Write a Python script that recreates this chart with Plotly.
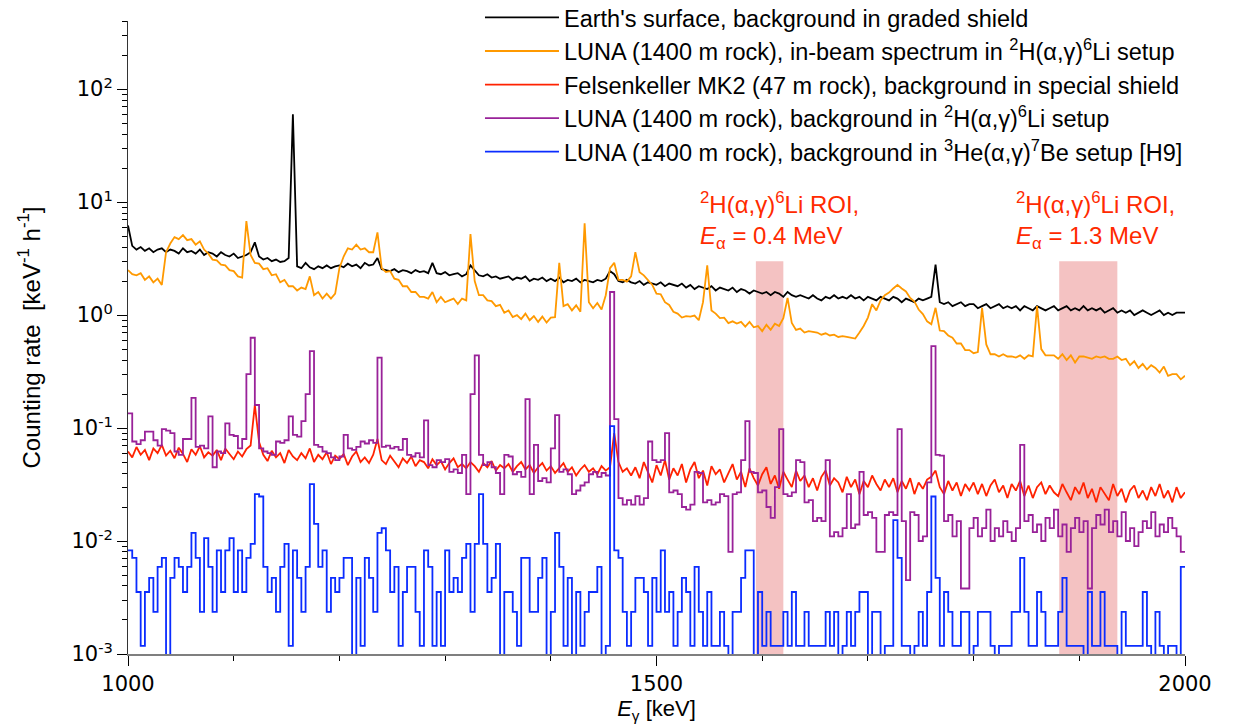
import numpy as np
import plotly.graph_objects as go

# ---------------- data ----------------
energy_step = 4
line_energies = np.arange(1000, 2001, energy_step)          # 251 points
bin_edges = np.arange(1000, 2000, energy_step)              # 250 bin starts

earth_surface = [
    6.2, 4.1, 3.8, 4.0, 3.7, 3.9, 3.6, 3.8, 3.9, 3.6,
    3.8, 3.7, 3.5, 3.9, 3.6, 3.7, 3.5, 3.8, 3.4, 3.6,
    3.5, 3.3, 3.6, 3.4, 3.3, 3.5, 3.2, 3.3, 3.4, 3.6,
    4.4, 3.3, 3.1, 3.2, 3.0, 3.1, 2.95, 3.0, 3.2, 60,
    2.7, 2.6, 2.9, 2.65, 2.55, 2.7, 2.6, 2.75, 2.6, 2.7,
    2.75, 2.65, 2.85, 2.7, 2.8, 2.6, 2.9, 2.75, 2.8, 3.2,
    2.55, 2.5, 2.45, 2.55, 2.4, 2.5, 2.45, 2.35, 2.5, 2.4,
    2.45, 2.35, 2.9, 2.35, 2.3, 2.4, 2.25, 2.3, 2.35, 2.2,
    2.3, 2.75, 2.5, 2.25, 2.2, 2.3, 2.15, 2.2, 2.1, 2.15,
    2.2, 2.05, 2.15, 2.1, 2.2, 2.0, 2.1, 2.05, 2.15, 2.0,
    2.1, 2.0, 2.15, 1.95, 2.05, 2.0, 2.1, 1.95, 2.05, 2.0,
    1.95, 2.05, 2.0, 2.1, 2.45, 2.3, 2.0, 1.95, 2.05, 1.95,
    1.9, 2.0, 1.85, 1.95, 1.9, 1.85, 1.95, 1.8, 1.9, 1.85,
    1.8, 1.9, 1.75, 1.85, 1.7, 1.8, 1.75, 1.7, 1.8, 1.65,
    1.75, 1.7, 1.65, 1.75, 1.6, 1.7, 1.65, 1.55, 1.65, 1.6,
    1.55, 1.6, 1.5, 1.6, 1.55, 1.45, 1.6, 1.5, 1.45, 1.5,
    1.45, 1.4, 1.5, 1.4, 1.35, 1.45, 1.4, 1.5, 1.4, 1.45,
    1.4, 1.5, 1.4, 1.45, 1.35, 1.45, 1.4, 1.35, 1.45, 1.4,
    1.35, 1.45, 1.4, 1.3, 1.4, 1.35, 1.3, 1.4, 1.35, 1.4,
    1.45, 2.8, 1.3, 1.25, 1.3, 1.2, 1.25, 1.3, 1.2, 1.25,
    1.25, 1.15, 1.2, 1.25, 1.15, 1.2, 1.25, 1.15, 1.2, 1.15,
    1.2, 1.1, 1.2, 1.15, 1.1, 1.2, 1.15, 1.1, 1.15, 1.2,
    1.1, 1.15, 1.2, 1.1, 1.15, 1.1, 1.2, 1.1, 1.15, 1.1,
    1.15, 1.05, 1.1, 1.15, 1.05, 1.1, 1.05, 1.1, 1.0, 1.05,
    1.1, 1.05, 1.0, 1.05, 1.1, 1.0, 1.05, 1.0, 1.05, 1.05,
    1.05,
]

luna_inbeam = [
    2.5, 2.3, 2.25, 2.35, 2.05, 2.2, 1.95, 2.1, 1.85, 3.6,
    4.3, 4.9, 4.7, 5.1, 4.6, 4.7, 4.2, 4.5, 3.8, 3.5,
    3.1, 3.05, 2.8, 2.75, 2.5, 2.45, 2.2, 2.15, 6.8, 3.4,
    2.9, 2.85, 2.55, 2.6, 2.25, 2.3, 1.95, 2.05, 1.8, 1.8,
    1.65, 1.75, 1.7, 2.2, 1.5, 1.6, 1.4, 1.55, 1.4, 1.55,
    2.6, 3.3, 3.9, 3.8, 4.2, 3.8, 3.9, 3.6, 3.6, 5.4,
    2.6, 2.4, 2.45, 2.1, 2.05, 1.8, 1.8, 1.6, 1.6, 1.45,
    1.45, 1.4, 1.6, 1.3, 1.45, 1.3, 1.35, 1.4, 1.25, 1.4,
    1.35, 5.2, 2.0, 1.5, 1.5, 1.35, 1.33, 1.2, 1.23, 1.05,
    1.1, 0.96, 1.0, 0.92, 1.03, 0.9, 0.98, 0.87, 0.97, 0.86,
    0.95, 0.96, 2.9, 1.2, 1.25, 1.1, 1.22, 1.07, 6.5, 1.3,
    1.15, 1.28, 1.12, 1.5, 2.6, 2.9, 2.05, 2.05, 1.98, 2.2,
    3.6, 2.4, 2.25, 2.05, 1.85, 1.55, 1.53, 1.3, 1.23, 1.07,
    1.03, 0.95, 0.98, 0.97, 0.99, 0.9, 1.3, 2.75, 1.1, 1.03,
    0.94, 0.95, 0.85, 0.88, 0.84, 0.87, 0.79, 0.87, 0.78, 0.8,
    0.72, 0.82, 0.74, 0.84, 0.8, 0.94, 1.42, 0.85, 0.74, 0.76,
    0.7, 0.72, 0.71, 0.7, 0.67, 0.69, 0.66, 0.67, 0.64, 0.65,
    0.64, 0.63, 0.62, 0.7, 0.8, 0.95, 1.25, 1.1, 1.35, 1.5,
    1.58, 1.72, 1.85, 1.72, 1.62, 1.42, 1.32, 1.12, 1.02, 0.88,
    0.83, 1.16, 0.73, 0.72, 0.66, 0.63, 0.56, 0.56, 0.49, 0.49,
    0.46, 0.47, 1.16, 0.55, 0.45, 0.45, 0.43, 0.45, 0.43, 0.43,
    0.42, 0.44, 0.41, 0.44, 0.43, 1.2, 0.5, 0.44, 0.44, 0.44,
    0.41, 0.45, 0.4, 0.44, 0.38, 0.43, 0.43, 0.42, 0.41, 0.43,
    0.42, 0.43, 0.41, 0.41, 0.43, 0.4, 0.41, 0.36, 0.39, 0.34,
    0.37, 0.33, 0.36, 0.34, 0.31, 0.35, 0.29, 0.3, 0.3, 0.27,
    0.29,
]

felsenkeller = [
    0.062, 0.055, 0.068, 0.058, 0.064, 0.052, 0.066, 0.06, 0.071, 0.057,
    0.063, 0.054, 0.067, 0.059, 0.05, 0.065, 0.058, 0.069, 0.055, 0.061,
    0.057, 0.064, 0.052, 0.066, 0.059, 0.053, 0.062, 0.056, 0.065, 0.07,
    0.16, 0.075, 0.058, 0.051, 0.063, 0.055, 0.06, 0.049, 0.064, 0.056,
    0.052, 0.06, 0.054, 0.066, 0.05, 0.058, 0.053, 0.061, 0.048, 0.057,
    0.053, 0.059, 0.047, 0.056, 0.062, 0.05, 0.055, 0.049, 0.058, 0.08,
    0.052, 0.048, 0.057, 0.05, 0.045, 0.054, 0.049, 0.056, 0.046, 0.052,
    0.05, 0.044, 0.053, 0.047, 0.051, 0.043, 0.049, 0.054, 0.045, 0.048,
    0.044, 0.05, 0.046, 0.041, 0.049, 0.045, 0.051, 0.042, 0.047, 0.044,
    0.048, 0.041, 0.046, 0.05, 0.043, 0.047, 0.04, 0.045, 0.049, 0.042,
    0.046, 0.04, 0.044, 0.049, 0.041, 0.045, 0.038, 0.043, 0.047, 0.041,
    0.044, 0.039, 0.046, 0.042, 0.045, 0.09, 0.05, 0.041, 0.044, 0.038,
    0.045, 0.036, 0.05, 0.04, 0.033, 0.047, 0.038, 0.052, 0.035, 0.044,
    0.038, 0.048, 0.033, 0.043, 0.05, 0.036, 0.042, 0.031, 0.046, 0.039,
    0.043, 0.033, 0.04, 0.048, 0.035, 0.041, 0.03, 0.044, 0.036, 0.031,
    0.039, 0.045, 0.032, 0.038, 0.029, 0.041, 0.035, 0.03, 0.042, 0.034,
    0.038, 0.03, 0.036, 0.028, 0.037, 0.042, 0.031, 0.036, 0.033, 0.027,
    0.037, 0.03, 0.035, 0.026, 0.034, 0.03, 0.038, 0.032, 0.028, 0.035,
    0.03, 0.036, 0.027, 0.034, 0.029, 0.036, 0.026, 0.033, 0.029, 0.035,
    0.037, 0.042, 0.03, 0.026, 0.034, 0.028, 0.033, 0.025, 0.032, 0.028,
    0.033, 0.026, 0.032, 0.025, 0.031, 0.035, 0.027, 0.031, 0.024, 0.032,
    0.028, 0.034, 0.025, 0.031, 0.024, 0.03, 0.033, 0.026, 0.031, 0.027,
    0.025, 0.032, 0.027, 0.023, 0.03, 0.026, 0.033, 0.024, 0.029, 0.022,
    0.03, 0.026, 0.023, 0.032, 0.025, 0.029, 0.022, 0.028, 0.031, 0.024,
    0.028, 0.023, 0.03, 0.025, 0.032, 0.024, 0.028, 0.022, 0.03, 0.024,
    0.027,
]

luna_bg_li6 = [
    0.135, 0.076, 0.072, 0.078, 0.093, 0.093, 0.078, 0.07, 0.098, 0.095,
    0.09, 0.062, 0.058, 0.08, 0.08, 0.185, 0.068, 0.07, 0.066, 0.127,
    0.045, 0.062, 0.06, 0.11, 0.087, 0.085, 0.066, 0.08, 0.3, 0.63,
    0.16, 0.066, 0.062, 0.06, 0.058, 0.076, 0.074, 0.078, 0.127, 0.087,
    0.084, 0.115, 0.2, 0.48, 0.071, 0.068, 0.062, 0.06, 0.055, 0.052,
    0.056, 0.087, 0.066, 0.064, 0.068, 0.076, 0.073, 0.078, 0.074, 0.42,
    0.068, 0.07, 0.066, 0.068, 0.064, 0.08, 0.058, 0.056, 0.06, 0.055,
    0.117, 0.047, 0.045, 0.052, 0.05, 0.053, 0.041, 0.043, 0.04, 0.058,
    0.026, 0.2, 0.44, 0.058, 0.047, 0.05, 0.045, 0.04, 0.026, 0.058,
    0.056, 0.039, 0.041, 0.037, 0.18, 0.026, 0.071, 0.034, 0.036, 0.033,
    0.066, 0.13, 0.041, 0.043, 0.039, 0.026, 0.028, 0.031, 0.033, 0.039,
    0.041, 0.037, 0.04, 0.038, 1.6, 0.12, 0.024, 0.021, 0.023, 0.021,
    0.025, 0.021, 0.024, 0.076, 0.052, 0.05, 0.052, 0.09, 0.027, 0.028,
    0.026, 0.02, 0.019, 0.021, 0.041, 0.04, 0.022, 0.023, 0.021, 0.022,
    0.026, 0.025, 0.008, 0.026, 0.027, 0.052, 0.115, 0.041, 0.04, 0.027,
    0.028, 0.02, 0.016, 0.03, 0.098, 0.026, 0.025, 0.027, 0.052, 0.05,
    0.022, 0.023, 0.015, 0.016, 0.015, 0.052, 0.011, 0.012, 0.011, 0.013,
    0.026, 0.013, 0.014, 0.041, 0.017, 0.018, 0.016, 0.008, 0.008, 0.017,
    0.018, 0.017, 0.098, 0.015, 0.0045, 0.018, 0.017, 0.01, 0.011, 0.033,
    0.53, 0.058, 0.057, 0.015, 0.017, 0.011, 0.015, 0.0038, 0.0038, 0.013,
    0.016, 0.011, 0.013, 0.019, 0.01, 0.013, 0.011, 0.015, 0.012, 0.01,
    0.013, 0.071, 0.015, 0.017, 0.012, 0.014, 0.01, 0.016, 0.013, 0.019,
    0.011, 0.014, 0.008, 0.013, 0.016, 0.012, 0.015, 0.0038, 0.013, 0.017,
    0.014, 0.019, 0.012, 0.015, 0.011, 0.018, 0.01, 0.013, 0.009, 0.012,
    0.015, 0.013, 0.018, 0.011, 0.014, 0.012, 0.016, 0.013, 0.011, 0.008,
]

# counts per 4-keV bin; one count corresponds to 0.00118 keV^-1 h^-1
rate_per_count = 0.00118
luna_bg_be7_counts = [
    7, 6, 3, 1, 3, 4, 2, 5, 6, 0,
    4, 6, 5, 3, 5, 10, 6, 2, 9, 5,
    2, 7, 3, 7, 9, 3, 7, 3, 6, 8,
    22, 21, 5, 3, 4, 2, 5, 8, 1, 7,
    4, 2, 5, 27, 12, 5, 7, 2, 4, 3,
    4, 6, 6, 0, 4, 1, 6, 4, 2, 10,
    11, 7, 3, 5, 1, 3, 5, 5, 2, 1,
    7, 5, 1, 3, 1, 7, 3, 4, 3, 6,
    8, 2, 8, 22, 8, 3, 4, 8, 0, 3,
    3, 2, 1, 6, 6, 2, 2, 4, 6, 0,
    2, 10, 5, 1, 4, 0, 3, 1, 2, 3,
    3, 5, 0, 1, 88, 7, 6, 2, 1, 2,
    4, 4, 3, 1, 4, 2, 7, 2, 3, 1,
    2, 4, 3, 1, 5, 2, 1, 3, 1, 1,
    2, 1, 0, 2, 2, 4, 7, 7, 0, 3,
    1, 2, 1, 1, 1, 2, 1, 3, 1, 1,
    2, 1, 1, 1, 1, 2, 1, 2, 0, 1,
    2, 1, 2, 3, 3, 0, 2, 2, 0, 1,
    1, 13, 6, 1, 1, 0, 1, 2, 1, 3,
    21, 4, 1, 3, 2, 1, 1, 2, 2, 0,
    1, 2, 2, 2, 1, 0, 1, 1, 1, 2,
    2, 6, 2, 1, 1, 3, 2, 1, 1, 1,
    2, 4, 1, 1, 1, 1, 0, 3, 1, 1,
    3, 1, 1, 1, 0, 2, 1, 1, 1, 1,
    3, 1, 0, 2, 1, 0, 1, 1, 0, 5,
]

roi_ranges = [(1594, 1620), (1881, 1936)]   # keV
roi_top = 3.0
roi_labels = [
    "<sup>2</sup>H(\u03b1,\u03b3)<sup>6</sup>Li ROI,<br><i>E</i><sub>\u03b1</sub> = 0.4 MeV",
    "<sup>2</sup>H(\u03b1,\u03b3)<sup>6</sup>Li ROI,<br><i>E</i><sub>\u03b1</sub> = 1.3 MeV",
]
roi_label_x = [1539, 1838]
roi_label_y = 13.9

series_names = [
    "Earth's surface, background in graded shield",
    "LUNA (1400 m rock), in-beam spectrum in <sup>2</sup>H(\u03b1,\u03b3)<sup>6</sup>Li setup",
    "Felsenkeller MK2 (47 m rock), background in special shield",
    "LUNA (1400 m rock), background in <sup>2</sup>H(\u03b1,\u03b3)<sup>6</sup>Li setup",
    "LUNA (1400 m rock), background in <sup>3</sup>He(\u03b1,\u03b3)<sup>7</sup>Be setup [H9]",
]
colors = ["#000000", "#ff9900", "#ff2200", "#992299", "#0b2cff"]

assert len(earth_surface) == len(line_energies)
assert len(luna_inbeam) == len(line_energies)
assert len(felsenkeller) == len(line_energies)
assert len(luna_bg_li6) == len(bin_edges)
assert len(luna_bg_be7_counts) == len(bin_edges)

# ---------------- figure ----------------
step_x = list(bin_edges) + [2000]
li6_y = luna_bg_li6 + [luna_bg_li6[-1]]
be7_rate = [c * rate_per_count if c > 0 else 1e-5 for c in luna_bg_be7_counts]
be7_y = be7_rate + [be7_rate[-1]]

fig = go.Figure()
fig.add_trace(go.Scatter(x=line_energies, y=earth_surface, mode="lines",
                         name=series_names[0], line=dict(color=colors[0], width=1.8)))
fig.add_trace(go.Scatter(x=line_energies, y=luna_inbeam, mode="lines",
                         name=series_names[1], line=dict(color=colors[1], width=1.8)))
fig.add_trace(go.Scatter(x=line_energies, y=felsenkeller, mode="lines",
                         name=series_names[2], line=dict(color=colors[2], width=1.8)))
fig.add_trace(go.Scatter(x=step_x, y=li6_y, mode="lines",
                         name=series_names[3], line=dict(color=colors[3], width=1.8, shape="hv")))
fig.add_trace(go.Scatter(x=step_x, y=be7_y, mode="lines",
                         name=series_names[4], line=dict(color=colors[4], width=1.8, shape="hv")))

for (x0, x1) in roi_ranges:
    fig.add_shape(type="rect", xref="x", yref="y", x0=x0, x1=x1,
                  y0=1e-3, y1=roi_top, fillcolor="#f4c2c2",
                  line=dict(width=0), layer="below")

for txt, xv in zip(roi_labels, roi_label_x):
    fig.add_annotation(x=xv, y=np.log10(roi_label_y), xref="x", yref="y",
                       text=txt, showarrow=False, xanchor="left", yanchor="top",
                       align="left",
                       font=dict(family="Liberation Sans, Arial, sans-serif", size=24, color="#ff2a00"))

major_y = [1e-3, 1e-2, 1e-1, 1, 10, 100]
major_y_text = ["10<sup>-3</sup>", "10<sup>-2</sup>", "10<sup>-1</sup>",
                "10<sup>0</sup>", "10<sup>1</sup>", "10<sup>2</sup>"]
minor_y = [m * 10.0 ** k for k in range(-3, 3) for m in range(2, 10)]
minor_y = [v for v in minor_y if v < 410]
minor_x = [1100, 1200, 1300, 1400, 1600, 1700, 1800, 1900]

tickfont = dict(family="DejaVu Sans", size=21, color="black")
xtitlefont = dict(family="Liberation Sans, Arial, sans-serif", size=22, color="black")
ytitlefont = dict(family="Liberation Sans, Arial, sans-serif", size=24, color="black")

fig.update_layout(
    width=1237, height=724,
    margin=dict(l=128, r=52, t=21, b=70, autoexpand=False),
    paper_bgcolor="white", plot_bgcolor="white",
    showlegend=True,
    legend=dict(x=0.333, y=1.04, xanchor="left", yanchor="top",
                bgcolor="rgba(0,0,0,0)", borderwidth=0,
                font=dict(family="Liberation Sans, Arial, sans-serif", size=23.5, color="black"),
                itemwidth=74, tracegroupgap=0),
    xaxis=dict(range=[1000, 2000], showgrid=False, zeroline=False,
               showline=True, linecolor="#7f7f7f", linewidth=2,
               tickvals=[1000, 1500, 2000], ticktext=["1000", "1500", "2000"],
               ticks="outside", ticklen=10, tickcolor="black", tickwidth=1,
               minor=dict(tickvals=minor_x, ticks="outside", ticklen=5,
                          tickcolor="black", tickwidth=1),
               tickfont=tickfont,
               title=dict(text="<i>E</i><sub>\u03b3</sub> [keV]", font=xtitlefont, standoff=8)),
    xaxis2=dict(range=[1000, 2000], overlaying="x", anchor="y", side="bottom",
                showgrid=False, zeroline=False, showline=False, showticklabels=False,
                tickvals=minor_x, ticks="inside", ticklen=5, tickcolor="black", tickwidth=1),
    yaxis=dict(type="log", range=[-3, 2.603], showgrid=False, zeroline=False,
               showline=True, linecolor="#333333", linewidth=1,
               tickvals=major_y, ticktext=major_y_text,
               ticks="outside", ticklen=10, tickcolor="black", tickwidth=1,
               minor=dict(tickvals=minor_y, ticks="outside", ticklen=5,
                          tickcolor="black", tickwidth=1),
               tickfont=tickfont,
               title=dict(text="Counting rate  [keV<sup>-1</sup> h<sup>-1</sup>]",
                          font=ytitlefont, standoff=24)),
    yaxis2=dict(type="log", range=[-3, 2.603], overlaying="y", anchor="x", side="left",
                showgrid=False, zeroline=False, showline=False, showticklabels=False,
                tickvals=major_y, ticks="inside", ticklen=6, tickcolor="black",
                minor=dict(tickvals=minor_y, ticks="inside", ticklen=4, tickcolor="black")),
)

fig.write_html("out.html")
